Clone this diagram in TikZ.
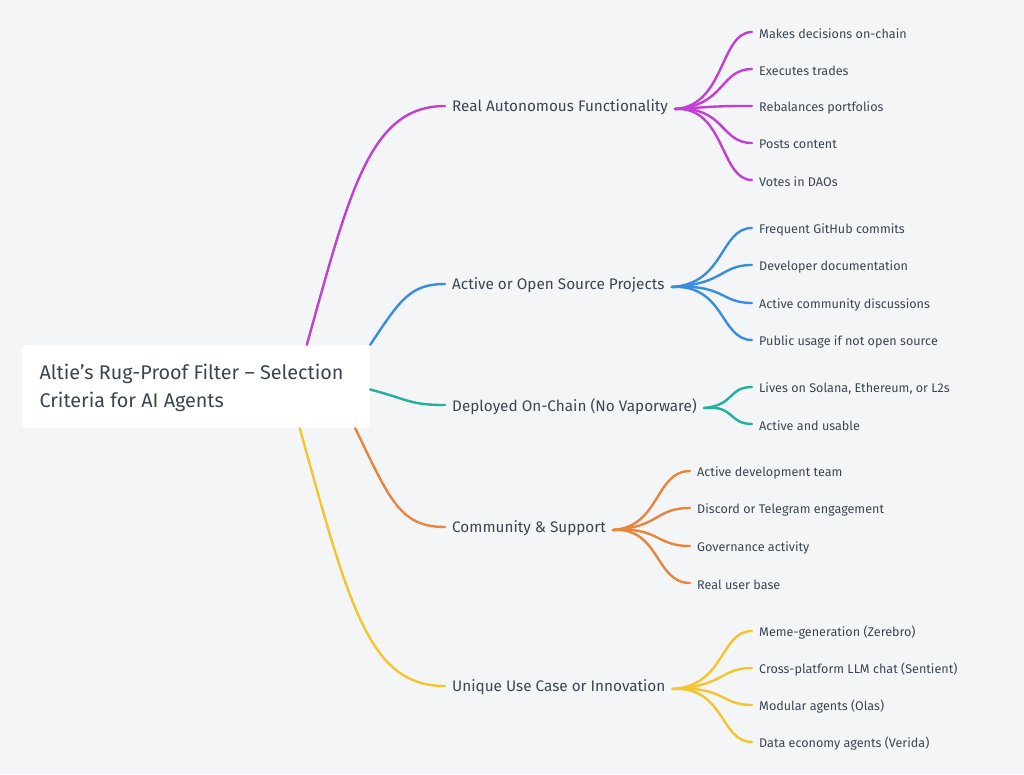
\documentclass[tikz,border=0pt]{standalone}
\usepackage{fontspec}
\setmainfont{Fira Sans}
\usetikzlibrary{calc}
\definecolor{bg}{HTML}{F4F5F7}
\definecolor{txt}{HTML}{3B4552}
\definecolor{cM}{HTML}{C13FD2}
\definecolor{cB}{HTML}{3A8DDE}
\definecolor{cT}{HTML}{22B09F}
\definecolor{cO}{HTML}{E8853D}
\definecolor{cY}{HTML}{F6C42C}
\begin{document}
\begin{tikzpicture}[x=1pt,y=-1pt,
  br/.style={anchor=west,inner xsep=7pt,inner ysep=2pt,font=\fontsize{15.3}{17}\selectfont,text=txt,yshift=-1.5pt},
  lf/.style={anchor=west,inner xsep=7pt,inner ysep=2pt,font=\fontsize{12.6}{14}\selectfont,text=txt,yshift=-1.5pt},
  ln/.style={line width=2.4pt,line cap=round}]
\fill[bg] (0,0) rectangle (1024,774);
\useasboundingbox (0,0) rectangle (1024,774);
\node[fill=white,rounded corners=4pt,minimum width=348pt,minimum height=83pt,inner sep=0pt] (root) at (196,386.5) {};
\node[anchor=west,align=left,text=txt,font=\fontsize{19.8}{28}\selectfont] (rt) at (36,388) {Altie’s Rug-Proof Filter – Selection\\Criteria for AI Agents};
% branches
\node[br] (b1) at (445,106) {Real Autonomous Functionality};
\node[br] (b2) at (445,284) {Active or Open Source Projects};
\node[br] (b3) at (445,405) {Deployed On-Chain (No Vaporware)};
\node[br] (b4) at (445,527) {Community \& Support};
\node[br] (b5) at (445,686) {Unique Use Case or Innovation};
\coordinate (r1) at ($(root.north west)+(285,0)$);
\coordinate (r2) at ($(root.north east)$);
\coordinate (r3) at ($(root.east)+(0,3)$);
\coordinate (r4) at ($(root.south east)+(-15,0)$);
\coordinate (r5) at ($(root.south west)+(278,0)$);
\coordinate (e1) at (445,106);
\coordinate (e2) at (445,284);
\coordinate (e3) at (445,405);
\coordinate (e4) at (445,527);
\coordinate (e5) at (445,686);
\draw[ln,cM] (r1) .. controls (350,190) and (370,106) .. (e1);
\draw[ln,cB] (r2) .. controls (400,300) and (410,284) .. (e2);
\draw[ln,cT] (r3) .. controls (410,400) and (410,405) .. (e3);
\draw[ln,cO] (r4) .. controls (390,500) and (400,527) .. (e4);
\draw[ln,cY] (r5) .. controls (350,610) and (370,686) .. (e5);
% leaves
\coordinate (s1) at ($(b1.east)+(0,1.5)$);
\coordinate (s2) at ($(b2.east)+(0,1.5)$);
\coordinate (s3) at ($(b3.east)+(0,1.5)$);
\coordinate (s4) at ($(b4.east)+(0,1.5)$);
\coordinate (s5) at ($(b5.east)+(0,1.5)$);
\foreach \t/\y [count=\i] in {Makes decisions on-chain/32,Executes trades/69,Rebalances portfolios/106,Posts content/143,Votes in DAOs/180}{
  \node[lf] (m\i) at (752,\y) {\t};
  \draw[ln,cM] (s1) .. controls (725,106) and (720,\y) .. (752,\y);}
\foreach \t/\y [count=\i] in {Frequent GitHub commits/228,Developer documentation/265,Active community discussions/303,Public usage if not open source/340}{
  \node[lf] (p\i) at (752,\y) {\t};
  \draw[ln,cB] (s2) .. controls (725,284) and (720,\y) .. (752,\y);}
\foreach \t/\y [count=\i] in {{Lives on Solana, Ethereum, or L2s}/387,Active and usable/424}{
  \node[lf] (d\i) at (752,\y) {\t};
  \draw[ln,cT] (s3) .. controls (735,405) and (728,\y) .. (752,\y);}
\foreach \t/\y [count=\i] in {Active development team/471,Discord or Telegram engagement/508,Governance activity/546,Real user base/583}{
  \node[lf] (c\i) at (690,\y) {\t};
  \draw[ln,cO] (s4) .. controls (660,527) and (655,\y) .. (690,\y);}
\foreach \t/\y [count=\i] in {Meme-generation (Zerebro)/631,Cross-platform LLM chat (Sentient)/668,Modular agents (Olas)/705,Data economy agents (Verida)/742}{
  \node[lf] (u\i) at (752,\y) {\t};
  \draw[ln,cY] (s5) .. controls (725,686) and (720,\y) .. (752,\y);}
\end{tikzpicture}
\end{document}
